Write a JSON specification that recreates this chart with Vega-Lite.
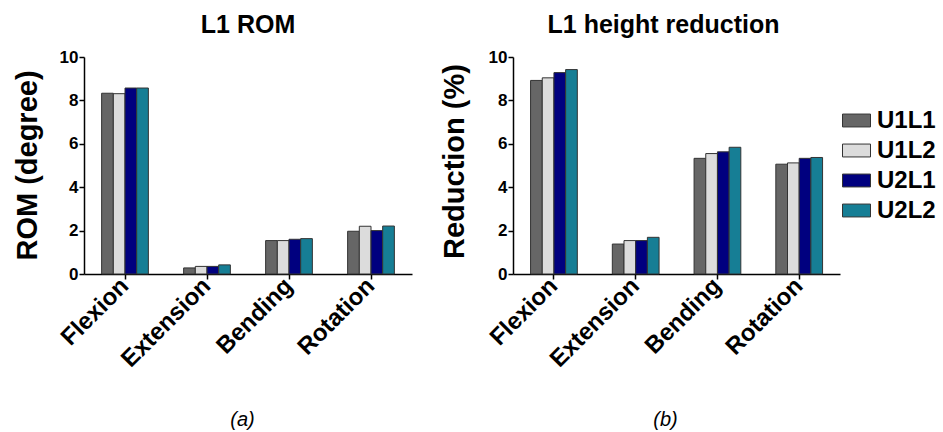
{
  "$schema": "https://vega.github.io/schema/vega-lite/v6.json",
  "padding": {"left": 12, "top": 13, "right": 5, "bottom": 5},
  "datasets": {
    "rom": [
      {"motion": "Flexion", "group": "U1L1", "value": 8.33},
      {"motion": "Flexion", "group": "U1L2", "value": 8.31},
      {"motion": "Flexion", "group": "U2L1", "value": 8.57},
      {"motion": "Flexion", "group": "U2L2", "value": 8.57},
      {"motion": "Extension", "group": "U1L1", "value": 0.28},
      {"motion": "Extension", "group": "U1L2", "value": 0.35},
      {"motion": "Extension", "group": "U2L1", "value": 0.35},
      {"motion": "Extension", "group": "U2L2", "value": 0.42},
      {"motion": "Bending", "group": "U1L1", "value": 1.54},
      {"motion": "Bending", "group": "U1L2", "value": 1.54},
      {"motion": "Bending", "group": "U2L1", "value": 1.6},
      {"motion": "Bending", "group": "U2L2", "value": 1.63},
      {"motion": "Rotation", "group": "U1L1", "value": 1.97},
      {"motion": "Rotation", "group": "U1L2", "value": 2.2},
      {"motion": "Rotation", "group": "U2L1", "value": 2.0},
      {"motion": "Rotation", "group": "U2L2", "value": 2.21}
    ],
    "red": [
      {"motion": "Flexion", "group": "U1L1", "value": 8.92},
      {"motion": "Flexion", "group": "U1L2", "value": 9.04},
      {"motion": "Flexion", "group": "U2L1", "value": 9.28},
      {"motion": "Flexion", "group": "U2L2", "value": 9.42},
      {"motion": "Extension", "group": "U1L1", "value": 1.38},
      {"motion": "Extension", "group": "U1L2", "value": 1.54},
      {"motion": "Extension", "group": "U2L1", "value": 1.54},
      {"motion": "Extension", "group": "U2L2", "value": 1.69},
      {"motion": "Bending", "group": "U1L1", "value": 5.33},
      {"motion": "Bending", "group": "U1L2", "value": 5.55},
      {"motion": "Bending", "group": "U2L1", "value": 5.63},
      {"motion": "Bending", "group": "U2L2", "value": 5.84},
      {"motion": "Rotation", "group": "U1L1", "value": 5.06},
      {"motion": "Rotation", "group": "U1L2", "value": 5.12},
      {"motion": "Rotation", "group": "U2L1", "value": 5.33},
      {"motion": "Rotation", "group": "U2L2", "value": 5.37}
    ]
  },
  "config": {
    "font": "Liberation Sans",
    "view": {"stroke": null},
    "axis": {
      "domainColor": "black",
      "domainWidth": 1.5,
      "tickColor": "black",
      "tickWidth": 1.5,
      "tickSize": 5,
      "grid": false,
      "labelColor": "black",
      "labelFont": "Liberation Sans",
      "labelFontWeight": "bold",
      "titleColor": "black",
      "titleFont": "Liberation Sans"
    },
    "title": {"font": "Liberation Sans", "fontSize": 25, "fontWeight": "bold", "color": "black", "offset": 10},
    "legend": {"labelFont": "Liberation Sans"}
  },
  "spacing": 27,
  "hconcat": [
    {
      "data": {"name": "rom"},
      "title": {"text": "L1 ROM"},
      "width": 328,
      "height": 217,
      "mark": {"type": "bar", "stroke": "#333333", "strokeWidth": 1},
      "encoding": {
        "x": {
          "field": "motion", "type": "nominal",
          "sort": ["Flexion", "Extension", "Bending", "Rotation"],
          "scale": {"paddingInner": 0.43, "paddingOuter": 0.215},
          "axis": {"title": "(a)", "titleFontStyle": "italic", "titleFontWeight": "normal", "titleFontSize": 20,
                   "titleY": 145, "titleX": 158, "titleBaseline": "middle",
                   "labelAngle": -45, "labelAlign": "right", "labelBaseline": "middle", "labelFontSize": 24, "labelPadding": 3}
        },
        "xOffset": {"field": "group", "type": "nominal", "sort": ["U1L1", "U1L2", "U2L1", "U2L2"]},
        "y": {
          "field": "value", "type": "quantitative",
          "scale": {"domain": [0, 10], "nice": false},
          "axis": {"title": "ROM (degree)", "values": [0, 2, 4, 6, 8, 10], "labelFontSize": 17, "labelPadding": 1,
                   "titleFontSize": 29, "titleFontWeight": "bold", "titleX": -57, "titleY": 108, "titleBaseline": "middle", "titleAlign": "center"}
        },
        "color": {
          "field": "group", "type": "nominal",
          "scale": {"domain": ["U1L1", "U1L2", "U2L1", "U2L2"], "range": ["#666666", "#dcdcdc", "#00007f", "#167e95"]},
          "legend": {
            "title": null, "orient": "none", "legendX": 758, "legendY": 49,
            "symbolType": "M-1,-0.46H1V0.46H-1Z", "symbolSize": 784, "symbolStrokeColor": "#333333", "symbolStrokeWidth": 1,
            "labelFontSize": 24, "labelFontWeight": "bold", "labelColor": "black", "labelOffset": 6, "rowPadding": 3
          }
        }
      }
    },
    {
      "data": {"name": "red"},
      "title": {"text": "L1 height reduction", "dx": -13},
      "width": 327,
      "height": 217,
      "mark": {"type": "bar", "stroke": "#333333", "strokeWidth": 1},
      "encoding": {
        "x": {
          "field": "motion", "type": "nominal",
          "sort": ["Flexion", "Extension", "Bending", "Rotation"],
          "scale": {"paddingInner": 0.43, "paddingOuter": 0.215},
          "axis": {"title": "(b)", "titleFontStyle": "italic", "titleFontWeight": "normal", "titleFontSize": 20,
                   "titleY": 145, "titleX": 152, "titleBaseline": "middle",
                   "labelAngle": -45, "labelAlign": "right", "labelBaseline": "middle", "labelFontSize": 24, "labelPadding": 3}
        },
        "xOffset": {"field": "group", "type": "nominal", "sort": ["U1L1", "U1L2", "U2L1", "U2L2"]},
        "y": {
          "field": "value", "type": "quantitative",
          "scale": {"domain": [0, 10], "nice": false},
          "axis": {"title": "Reduction (%)", "values": [0, 2, 4, 6, 8, 10], "labelFontSize": 17, "labelPadding": 1,
                   "titleFontSize": 29, "titleFontWeight": "bold", "titleX": -59, "titleY": 104, "titleBaseline": "middle", "titleAlign": "center"}
        },
        "color": {
          "field": "group", "type": "nominal",
          "scale": {"domain": ["U1L1", "U1L2", "U2L1", "U2L2"], "range": ["#666666", "#dcdcdc", "#00007f", "#167e95"]}
        }
      }
    }
  ]
}
